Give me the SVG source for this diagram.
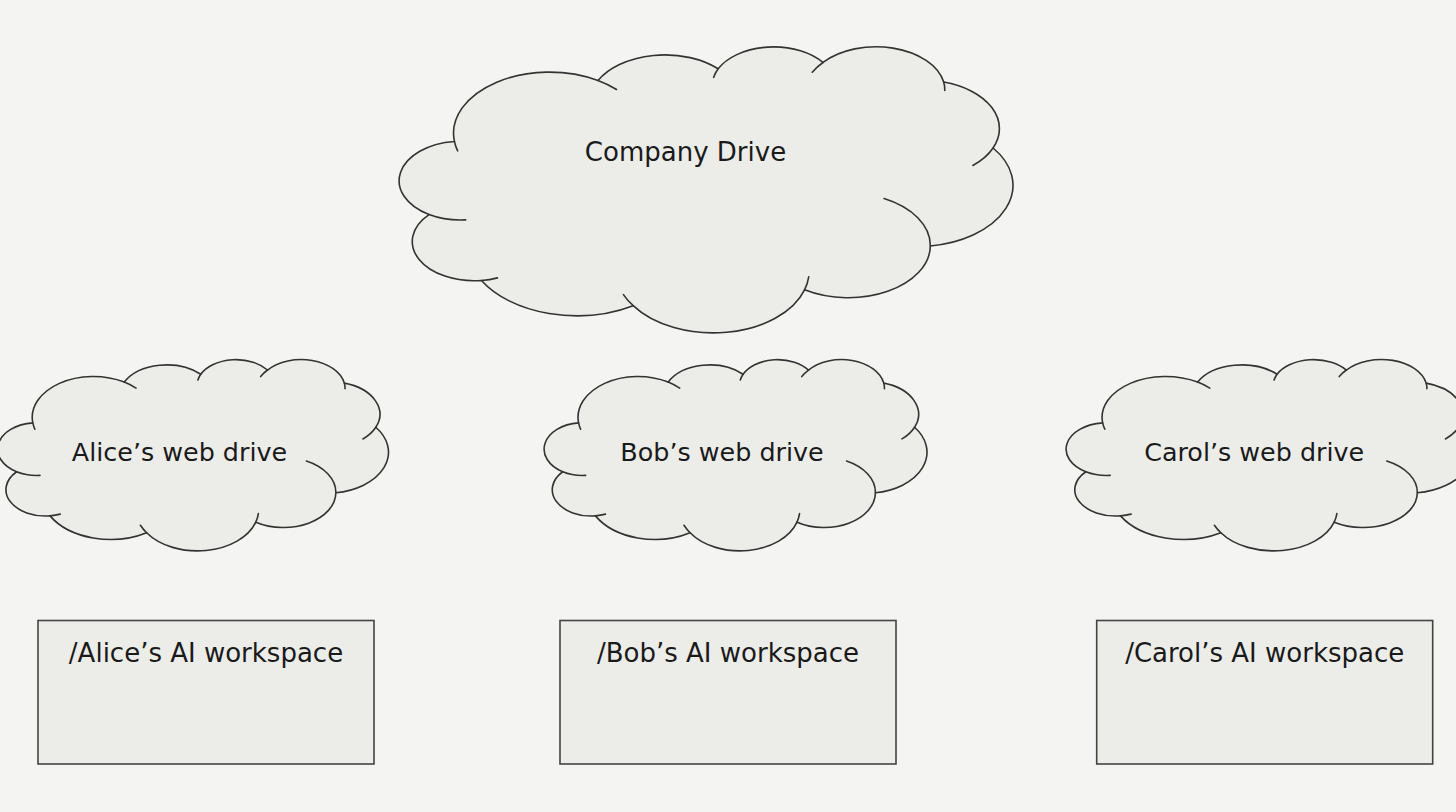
<svg xmlns="http://www.w3.org/2000/svg" xmlns:xlink="http://www.w3.org/1999/xlink" width="1456" height="812" viewBox="0 0 1456 812">
  <style>
    .cloud { fill: #ecece9; stroke: #333333; stroke-width: 1.6; vector-effect: non-scaling-stroke; stroke-linejoin: round; }
    .cloudInner { fill: none; stroke: #333333; stroke-width: 1.6; vector-effect: non-scaling-stroke; stroke-linecap: round; }
    .box { fill: #ecece9; stroke: #444444; stroke-width: 1.6; }
    .label { font-family: "DejaVu Sans", "Liberation Sans", sans-serif; font-size: 26px; fill: #1a1a1a; text-anchor: middle; }
    .small { font-size: 25.4px; }
  </style>
  <defs>
    <g id="cloudShape">
      <path class="cloud" d="M3900,14370 A6753,9190 0 0 1 14000,5192 A5333,7267 0 0 1 22455,3431 A4365,5945 0 0 1 29832,2480 A4857,6595 0 0 1 38324,5426 A5333,7273 0 0 1 41798,15354 A6775,9220 0 0 1 37384,30097 A5785,7867 0 0 1 28535,36707 A6752,9215 0 0 1 16478,39090 A7720,10543 0 0 1 5802,35295 A4360,5918 0 0 1 2111,25373 A4345,5945 0 0 1 3900,14370 Z"/>
      <path class="cloudInner" d="M4693,26177 A4345,5945 0 0 1 2111,25373 M6928,34899 A4360,5918 0 0 1 5802,35295 M16478,39090 A6752,9215 0 0 1 15792,37417 M28827,34751 A6752,9215 0 0 1 28535,36707 M34129,22954 A5785,7867 0 0 1 37384,30097 M41798,15354 A5333,7273 0 0 1 40377,17985 M38324,5426 A4857,6595 0 0 1 38400,6689 M29078,3952 A4857,6595 0 0 1 29832,2480 M22141,4720 A4365,5945 0 0 1 22455,3431 M14000,5192 A6753,9190 0 0 1 15305,6551 M4127,15789 A6753,9190 0 0 1 3900,14370"/>
    </g>
  </defs>
  <rect x="0" y="0" width="1456" height="812" fill="#f4f4f2"/>

  <g id="company-drive">
    <use href="#cloudShape" xlink:href="#cloudShape" transform="translate(399,46) scale(0.014213,0.0066435)"/>
    <text class="label" x="685.5" y="161">Company Drive</text>
  </g>

  <g id="alice-web-drive">
    <use href="#cloudShape" xlink:href="#cloudShape" transform="translate(-2.5,359) scale(0.0090509,0.0044444)"/>
    <text class="label small" x="179.5" y="460.7">Alice’s web drive</text>
  </g>

  <g id="bob-web-drive">
    <use href="#cloudShape" xlink:href="#cloudShape" transform="translate(544,359) scale(0.0088657,0.0044444)"/>
    <text class="label small" x="722" y="460.7">Bob’s web drive</text>
  </g>

  <g id="carol-web-drive">
    <use href="#cloudShape" xlink:href="#cloudShape" transform="translate(1066,359) scale(0.0093981,0.0044444)"/>
    <text class="label small" x="1254.2" y="460.7">Carol’s web drive</text>
  </g>

  <g id="alice-ai-workspace">
    <rect class="box" x="38" y="620.5" width="336" height="143.5"/>
    <text class="label" x="206" y="662.3">/Alice’s AI workspace</text>
  </g>

  <g id="bob-ai-workspace">
    <rect class="box" x="560" y="620.5" width="336" height="143.5"/>
    <text class="label" x="728" y="662.3">/Bob’s AI workspace</text>
  </g>

  <g id="carol-ai-workspace">
    <rect class="box" x="1096.7" y="620.5" width="336" height="143.5"/>
    <text class="label" x="1264.7" y="662.3">/Carol’s AI workspace</text>
  </g>

  <g id="connectors"/>
</svg>
